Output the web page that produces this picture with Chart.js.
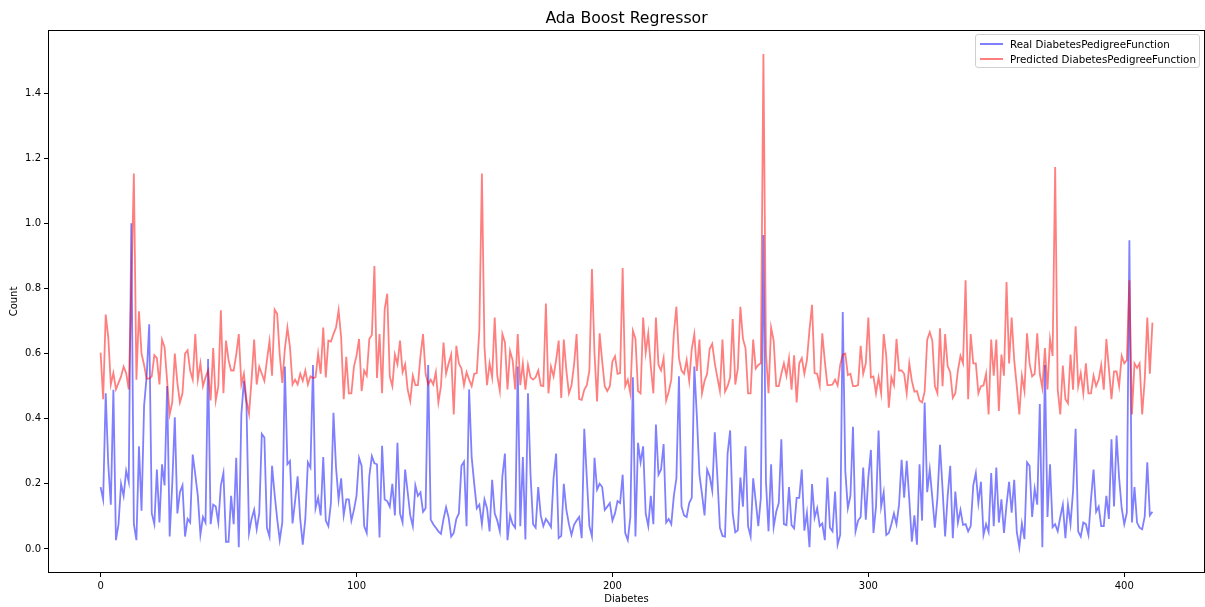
<!DOCTYPE html>
<html>
<head>
<meta charset="utf-8">
<title>Ada Boost Regressor</title>
<script src="https://cdn.jsdelivr.net/npm/chart.js@4.4.1/dist/chart.umd.min.js"></script>
<style>
  body { margin: 0; background: #fff; }
  #wrap { position: relative; width: 1205px; height: 607px; }
  #chartTitle {
    position: absolute; left: 48px; width: 1157px; top: 8px;
    text-align: center; white-space: nowrap;
    font-family: "DejaVu Sans", sans-serif; font-size: 15.7px; color: #000;
  }
  #legendBox {
    position: absolute; left: 975px; top: 34px; width: 225px;
    padding: 1px 0; box-sizing: border-box;
    border: 1px solid #d0d0d0; border-radius: 3px;
    background: rgba(255,255,255,0.8);
    font-family: "DejaVu Sans", sans-serif; font-size: 10.3px; color: #000;
    white-space: nowrap;
  }
  .legend-row { display: flex; align-items: center; height: 15px; }
  .legend-line { width: 23px; height: 2px; margin: 0 7px 0 4px; flex: none; }
</style>
</head>
<body>
<div id="wrap">
  <canvas id="chart" width="1205" height="607"></canvas>
  <div id="chartTitle">Ada Boost Regressor</div>
  <div id="legendBox"></div>
</div>

<script>

// y_test values (DiabetesPedigreeFunction)
const realValues = [
  0.19, 0.152, 0.478, 0.26, 0.136, 0.489, 0.027, 0.076, 0.2, 0.163,
  0.24, 0.206, 1.0, 0.076, 0.027, 0.315, 0.117, 0.44, 0.53, 0.69,
  0.109, 0.076, 0.244, 0.081, 0.26, 0.195, 0.5, 0.038, 0.2, 0.404,
  0.109, 0.174, 0.195, 0.038, 0.092, 0.081, 0.29, 0.228, 0.163, 0.043,
  0.098, 0.081, 0.583, 0.076, 0.136, 0.13, 0.081, 0.195, 0.233, 0.022,
  0.022, 0.163, 0.076, 0.28, 0.005, 0.413, 0.516, 0.445, 0.049, 0.092,
  0.12, 0.06, 0.109, 0.353, 0.342, 0.065, 0.038, 0.255, 0.168, 0.092,
  0.027, 0.081, 0.56, 0.26, 0.27, 0.078, 0.147, 0.223, 0.092, 0.013,
  0.092, 0.266, 0.25, 0.565, 0.125, 0.157, 0.103, 0.282, 0.087, 0.07,
  0.141, 0.418, 0.25, 0.152, 0.217, 0.103, 0.152, 0.152, 0.087, 0.12,
  0.163, 0.28, 0.255, 0.07, 0.049, 0.223, 0.285, 0.263, 0.26, 0.035,
  0.317, 0.152, 0.147, 0.13, 0.2, 0.103, 0.326, 0.109, 0.081, 0.244,
  0.174, 0.103, 0.07, 0.195, 0.163, 0.174, 0.114, 0.125, 0.565, 0.09,
  0.076, 0.065, 0.054, 0.046, 0.092, 0.128, 0.096, 0.038, 0.049, 0.092,
  0.109, 0.255, 0.268, 0.07, 0.49, 0.282, 0.2, 0.125, 0.136, 0.076,
  0.152, 0.125, 0.054, 0.212, 0.109, 0.087, 0.054, 0.223, 0.293, 0.027,
  0.103, 0.076, 0.065, 0.56, 0.07, 0.282, 0.029, 0.478, 0.228, 0.076,
  0.065, 0.19, 0.103, 0.07, 0.092, 0.081, 0.067, 0.217, 0.293, 0.033,
  0.04, 0.2, 0.12, 0.076, 0.043, 0.074, 0.087, 0.098, 0.033, 0.369,
  0.217, 0.07, 0.038, 0.28, 0.182, 0.2, 0.19, 0.12, 0.13, 0.141,
  0.087, 0.109, 0.147, 0.141, 0.228, 0.049, 0.027, 0.098, 0.527, 0.038,
  0.326, 0.266, 0.315, 0.109, 0.07, 0.163, 0.076, 0.382, 0.228, 0.244,
  0.322, 0.081, 0.092, 0.076, 0.163, 0.217, 0.53, 0.13, 0.103, 0.098,
  0.141, 0.157, 0.56, 0.407, 0.228, 0.168, 0.103, 0.244, 0.223, 0.179,
  0.358, 0.223, 0.065, 0.04, 0.038, 0.293, 0.364, 0.109, 0.051, 0.057,
  0.219, 0.13, 0.315, 0.07, 0.038, 0.217, 0.147, 0.07, 0.157, 0.964,
  0.206, 0.054, 0.26, 0.067, 0.114, 0.141, 0.337, 0.076, 0.073, 0.19,
  0.073, 0.063, 0.157, 0.157, 0.244, 0.056, 0.111, 0.005, 0.199, 0.096,
  0.125, 0.07, 0.078, 0.027, 0.219, 0.065, 0.054, 0.176, 0.013, 0.043,
  0.728, 0.239, 0.125, 0.163, 0.375, 0.054, 0.087, 0.098, 0.25, 0.09,
  0.22, 0.304, 0.049, 0.13, 0.364, 0.13, 0.174, 0.043, 0.049, 0.076,
  0.109, 0.076, 0.136, 0.274, 0.157, 0.271, 0.152, 0.022, 0.103, 0.013,
  0.26, 0.087, 0.45, 0.174, 0.244, 0.157, 0.065, 0.157, 0.32, 0.185,
  0.038, 0.163, 0.255, 0.033, 0.176, 0.081, 0.12, 0.074, 0.076, 0.054,
  0.07, 0.195, 0.233, 0.141, 0.206, 0.043, 0.076, 0.052, 0.233, 0.07,
  0.25, 0.081, 0.152, 0.049, 0.136, 0.206, 0.111, 0.212, 0.052, 0.005,
  0.078, 0.03, 0.266, 0.255, 0.098, 0.185, 0.136, 0.445, 0.005, 0.565,
  0.098, 0.26, 0.067, 0.076, 0.054, 0.098, 0.136, 0.033, 0.136, 0.076,
  0.179, 0.369, 0.054, 0.038, 0.081, 0.076, 0.043, 0.152, 0.244, 0.114,
  0.13, 0.07, 0.07, 0.163, 0.092, 0.337, 0.13, 0.348, 0.217, 0.125,
  0.076, 0.111, 0.948, 0.081, 0.19, 0.081, 0.065, 0.06, 0.1, 0.266,
  0.103, 0.114
];

// AdaBoostRegressor predictions
const predictedValues = [
  0.603, 0.46, 0.72, 0.65, 0.505, 0.54, 0.49, 0.51, 0.53, 0.56,
  0.54, 0.49, 0.8, 1.153, 0.52, 0.73, 0.6, 0.565, 0.523, 0.523,
  0.53, 0.595, 0.586, 0.505, 0.643, 0.62, 0.516, 0.413, 0.45, 0.6,
  0.51, 0.45, 0.478, 0.6, 0.61, 0.548, 0.52, 0.66, 0.52, 0.57,
  0.5, 0.527, 0.548, 0.456, 0.617, 0.456, 0.5, 0.733, 0.478, 0.64,
  0.58, 0.548, 0.548, 0.597, 0.66, 0.505, 0.538, 0.456, 0.415, 0.52,
  0.643, 0.505, 0.56, 0.538, 0.516, 0.58, 0.638, 0.532, 0.735, 0.722,
  0.597, 0.51, 0.614, 0.68, 0.62, 0.505, 0.52, 0.505, 0.538, 0.516,
  0.548, 0.505, 0.53, 0.525, 0.527, 0.6, 0.538, 0.68, 0.527, 0.64,
  0.637, 0.66, 0.68, 0.733, 0.65, 0.46, 0.59, 0.478, 0.478, 0.56,
  0.593, 0.645, 0.485, 0.548, 0.532, 0.645, 0.657, 0.869, 0.525, 0.66,
  0.478, 0.735, 0.784, 0.53, 0.5, 0.597, 0.567, 0.64, 0.543, 0.567,
  0.489, 0.454, 0.532, 0.503, 0.503, 0.593, 0.66, 0.538, 0.505, 0.52,
  0.505, 0.543, 0.45, 0.5, 0.634, 0.538, 0.57, 0.597, 0.413, 0.624,
  0.57, 0.554, 0.503, 0.543, 0.52, 0.5, 0.538, 0.54, 0.673, 1.153,
  0.62, 0.503, 0.57, 0.527, 0.711, 0.532, 0.485, 0.66, 0.634, 0.49,
  0.608, 0.58, 0.49, 0.66, 0.503, 0.57, 0.489, 0.565, 0.527, 0.52,
  0.527, 0.548, 0.502, 0.5, 0.754, 0.478, 0.56, 0.53, 0.58, 0.64,
  0.464, 0.643, 0.548, 0.478, 0.502, 0.565, 0.66, 0.46, 0.458, 0.489,
  0.503, 0.548, 0.86, 0.6, 0.453, 0.662, 0.576, 0.5, 0.485, 0.5,
  0.576, 0.592, 0.538, 0.54, 0.863, 0.5, 0.52, 0.478, 0.67, 0.646,
  0.485, 0.478, 0.711, 0.603, 0.662, 0.56, 0.478, 0.711, 0.565, 0.548,
  0.586, 0.456, 0.483, 0.52, 0.662, 0.744, 0.586, 0.548, 0.538, 0.58,
  0.516, 0.614, 0.66, 0.547, 0.643, 0.478, 0.516, 0.538, 0.614, 0.63,
  0.57, 0.527, 0.485, 0.643, 0.483, 0.5, 0.527, 0.706, 0.505, 0.554,
  0.744, 0.646, 0.617, 0.478, 0.478, 0.643, 0.554, 0.565, 0.57, 1.52,
  0.6, 0.478, 0.68, 0.64, 0.5, 0.5, 0.538, 0.57, 0.532, 0.586,
  0.489, 0.595, 0.45, 0.57, 0.586, 0.538, 0.58, 0.673, 0.75, 0.54,
  0.538, 0.502, 0.662, 0.576, 0.503, 0.503, 0.505, 0.52, 0.502, 0.565,
  0.597, 0.6, 0.534, 0.538, 0.5, 0.5, 0.503, 0.624, 0.538, 0.57,
  0.711, 0.527, 0.53, 0.478, 0.527, 0.478, 0.66, 0.593, 0.434, 0.527,
  0.503, 0.645, 0.548, 0.548, 0.538, 0.478, 0.57, 0.516, 0.483, 0.485,
  0.456, 0.45, 0.483, 0.643, 0.666, 0.64, 0.5, 0.478, 0.678, 0.5,
  0.66, 0.561, 0.543, 0.464, 0.478, 0.548, 0.593, 0.57, 0.825, 0.46,
  0.66, 0.57, 0.57, 0.478, 0.5, 0.502, 0.538, 0.413, 0.643, 0.532,
  0.643, 0.424, 0.597, 0.532, 0.82, 0.57, 0.711, 0.58, 0.5, 0.413,
  0.532, 0.485, 0.662, 0.57, 0.53, 0.538, 0.662, 0.538, 0.494, 0.617,
  0.49, 0.645, 0.593, 1.173, 0.489, 0.413, 0.563, 0.46, 0.447, 0.597,
  0.489, 0.684, 0.5, 0.54, 0.478, 0.57, 0.478, 0.478, 0.532, 0.5,
  0.52, 0.565, 0.489, 0.645, 0.554, 0.46, 0.545, 0.545, 0.5, 0.593,
  0.57, 0.58, 0.825, 0.413, 0.57, 0.556, 0.57, 0.413, 0.52, 0.711,
  0.538, 0.695
];

const seriesLabels = ["Real DiabetesPedigreeFunction", "Predicted DiabetesPedigreeFunction"];
const seriesColors = ["rgba(0, 0, 255, 0.5)", "rgba(255, 0, 0, 0.5)"];

const xTickValues = [0, 100, 200, 300, 400];
const yTickValues = [0, 0.2, 0.4, 0.6, 0.8, 1.0, 1.2, 1.4];

// axis limits with 5% margins around the data
const xMin = -20.55, xMax = 431.55;
const yMin = -0.074, yMax = 1.594;

Chart.defaults.font.family = "'DejaVu Sans', sans-serif";
Chart.defaults.color = "#000";

const toPoints = arr => arr.map((v, i) => ({ x: i, y: v }));

// full box around the plot area
const frameBox = {
  id: "frameBox",
  afterDraw(chart) {
    const { ctx, chartArea: a } = chart;
    ctx.save();
    ctx.strokeStyle = "#000";
    ctx.lineWidth = 1;
    ctx.strokeRect(Math.round(a.left) + 0.5, Math.round(a.top) + 0.5,
      Math.round(a.right - a.left) - 1, Math.round(a.bottom - a.top) - 1);
    ctx.restore();
  }
};

const tickGrid = { drawOnChartArea: false, drawTicks: true, tickLength: 4, color: "#000" };

new Chart(document.getElementById("chart"), {
  type: "line",
  data: {
    datasets: [
      {
        label: seriesLabels[0],
        data: toPoints(realValues),
        borderColor: seriesColors[0],
        borderWidth: 1.8,
        pointRadius: 0,
        tension: 0,
        order: 2
      },
      {
        label: seriesLabels[1],
        data: toPoints(predictedValues),
        borderColor: seriesColors[1],
        borderWidth: 1.8,
        pointRadius: 0,
        tension: 0,
        order: 1
      }
    ]
  },
  options: {
    responsive: false,
    animation: false,
    layout: { padding: { top: 30 } },
    plugins: {
      legend: { display: false },
      tooltip: { enabled: false },
      title: { display: false }
    },
    scales: {
      x: {
        type: "linear",
        min: xMin,
        max: xMax,
        grid: tickGrid,
        border: { display: false },
        ticks: { font: { size: 10 }, padding: 3, maxRotation: 0 },
        afterBuildTicks: s => { s.ticks = xTickValues.map(v => ({ value: v })); },
        afterFit: s => { s.height = 34; },
        title: { display: true, text: "Diabetes", font: { size: 10 }, padding: { top: 2, bottom: 2 } }
      },
      y: {
        type: "linear",
        min: yMin,
        max: yMax,
        grid: tickGrid,
        border: { display: false },
        ticks: { font: { size: 10 }, padding: 3, callback: v => v.toFixed(1) },
        afterBuildTicks: s => { s.ticks = yTickValues.map(v => ({ value: v })); },
        afterFit: s => { s.width = 48; },
        title: { display: true, text: "Count", font: { size: 10 }, padding: { top: 8, bottom: 8 } }
      }
    }
  },
  plugins: [frameBox]
});

// legend drawn inside the upper-right corner of the plot
const legendBox = document.getElementById("legendBox");
seriesLabels.forEach((label, i) => {
  legendBox.innerHTML += `
    <div class="legend-row">
      <span class="legend-line" style="background:${seriesColors[i]}"></span>
      <span>${label}</span>
    </div>`;
});

</script>
</body>
</html>
